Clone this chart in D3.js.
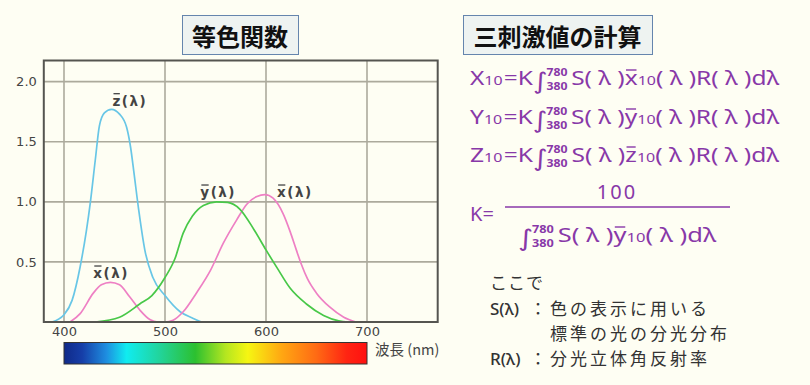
<!DOCTYPE html>
<html>
<head>
<meta charset="utf-8">
<script src="https://cdn.jsdelivr.net/npm/d3@7"></script>
<style>
body { margin: 0; background: #fefef3; }
svg { display: block; }
</style>
</head>
<body>
<div id="chart"></div>
<script>
/////////////////////////
// data
/////////////////////////
const wavelengthTicks = [400, 500, 600, 700];
const valueTicks = [0.5, 1.0, 1.5, 2.0];

// z-bar (blue)
const zbar = [[388,0],[400,0.06],[408,0.18],[416,0.46],[426,0.99],[431,1.35],[435,1.63],[440,1.74],
  [447,1.77],[455,1.73],[462,1.62],[466,1.45],[469,1.26],[474,0.93],[480,0.6],[488,0.37],
  [500,0.22],[515,0.085],[528,0.03],[536,0]];
// y-bar (green)
const ybar = [[431,0],[455,0.04],[475,0.15],[487,0.22],[500,0.37],[510,0.53],[518,0.74],[527,0.88],
  [538,0.97],[551,1.0],[562,0.995],[574,0.94],[588,0.77],[600,0.6],[611,0.45],[624,0.28],
  [640,0.15],[657,0.055],[672,0.01],[682,0]];
// x-bar (pink)
const xbar = [[406,0],[416,0.07],[429,0.24],[437,0.31],[446,0.33],[455,0.31],[465,0.21],[475,0.1],
  [485,0.02],[493,0],[500,0],[508,0.015],[518,0.085],[531,0.24],[545,0.43],[558,0.66],[571,0.85],
  [581,0.98],[591,1.045],[599,1.06],[607,1.03],[617,0.9],[624,0.75],[630,0.6],[635,0.48],
  [641,0.36],[650,0.24],[663,0.125],[677,0.04],[689,0]];

// curve labels, anchored in data units (nm, value)
const curveLabels = [
  {sym: "z", nm: 448, v: 1.80},
  {sym: "x", nm: 429, v: 0.366},
  {sym: "y", nm: 535, v: 1.04},
  {sym: "x", nm: 611, v: 1.04}
];

// spectrum bar colours
const spectrumStops = [[400,"#102a88"],[418,"#163ea8"],[442,"#1e8ee0"],[462,"#10ecf0"],
  [495,"#22d49a"],[530,"#2cc030"],[560,"#b4e620"],[582,"#f6f612"],[615,"#ffa812"],
  [650,"#ff6a14"],[680,"#ff2412"],[700,"#ff1010"]];

const noteLines = ["色の表示に用いる", "標準の光の分光分布", "分光立体角反射率"];

/////////////////////////
// layout
/////////////////////////
const W = 810, H = 385;
const purple = "#8838a8";

const svg = d3.select("#chart").append("svg")
  .attr("width", W).attr("height", H)
  .attr("viewBox", `0 0 ${W} ${H}`);

svg.append("rect").attr("width", W).attr("height", H).attr("fill", "#fefef3");

const x = d3.scaleLinear().domain([380, 770]).range([43.8, 437.7]);
const y = d3.scaleLinear().domain([0, 2.176]).range([322, 60.5]);

// title boxes
function titleBox(x0, x1, label) {
  svg.append("rect")
    .attr("x", x0 + 0.5).attr("y", 15.5)
    .attr("width", x1 - x0).attr("height", 39)
    .attr("fill", "#eef3f1").attr("stroke", "#6585ad").attr("stroke-width", 1);
  svg.append("text")
    .attr("x", (x0 + x1) / 2).attr("y", 35)
    .attr("text-anchor", "middle").attr("dominant-baseline", "central")
    .style("font-family", "'Noto Sans CJK JP', sans-serif")
    .style("font-weight", 700).style("font-size", "24px")
    .attr("fill", "#111")
    .text(label);
}
titleBox(182, 298, "等色関数");
titleBox(463, 652, "三刺激値の計算");

////////////////////////
// plot
////////////////////////
const plot = svg.append("g");

// grid
plot.selectAll("line.vg").data(wavelengthTicks).join("line")
  .attr("class", "vg")
  .attr("x1", d => x(d)).attr("x2", d => x(d))
  .attr("y1", y.range()[1]).attr("y2", y.range()[0])
  .attr("stroke", "#acaa9c").attr("stroke-width", 1.6);
plot.selectAll("line.hg").data(valueTicks).join("line")
  .attr("class", "hg")
  .attr("x1", x.range()[0]).attr("x2", x.range()[1])
  .attr("y1", d => y(d)).attr("y2", d => y(d))
  .attr("stroke", "#acaa9c").attr("stroke-width", 1.6);

const line = d3.line()
  .x(d => x(d[0]))
  .y(d => y(d[1]))
  .curve(d3.curveMonotoneX);

[[zbar, "#68c6e6"], [xbar, "#ee80c4"], [ybar, "#48c848"]].forEach(function(s) {
  plot.append("path")
    .datum(s[0])
    .attr("fill", "none")
    .attr("stroke", s[1])
    .attr("stroke-width", 1.7)
    .attr("d", line);
});

// frame
plot.append("rect")
  .attr("x", x.range()[0]).attr("y", y.range()[1])
  .attr("width", x.range()[1] - x.range()[0])
  .attr("height", y.range()[0] - y.range()[1])
  .attr("fill", "none").attr("stroke", "#555550").attr("stroke-width", 2);

// axes
const yAxis = svg.append("g")
  .attr("transform", `translate(${x.range()[0]},0)`)
  .call(d3.axisLeft(y).tickValues(valueTicks).tickFormat(d3.format(".1f")).tickSize(0).tickPadding(7));
const xAxis = svg.append("g")
  .attr("transform", `translate(0,${y.range()[0]})`)
  .call(d3.axisBottom(x).tickValues(wavelengthTicks).tickFormat(d3.format("d")).tickSize(0).tickPadding(5));
[xAxis, yAxis].forEach(function(a) {
  a.select(".domain").remove();
  a.selectAll("text")
    .style("font-family", "'DejaVu Sans', sans-serif")
    .style("font-size", "13px")
    .attr("fill", "#444");
});

// curve labels
const lab = svg.append("g")
  .style("font-family", "'DejaVu Sans', sans-serif")
  .style("font-weight", 700).style("font-size", "13.5px")
  .attr("fill", "#444");
curveLabels.forEach(function(d) {
  const t = lab.append("text")
    .attr("x", x(d.nm)).attr("y", y(d.v))
    .style("letter-spacing", "1.5px");
  t.append("tspan").text(d.sym);
  t.append("tspan").text("(λ)");
  const w = t.select("tspan").node().getComputedTextLength();
  lab.append("line")
    .attr("x1", x(d.nm) + 1).attr("x2", x(d.nm) + w - 2)
    .attr("y1", y(d.v) - 12).attr("y2", y(d.v) - 12)
    .attr("stroke", "#444").attr("stroke-width", 1.3);
});

// spectrum bar
const grad = svg.append("defs").append("linearGradient")
  .attr("id", "spec")
  .attr("x1", "0%").attr("x2", "100%");
grad.selectAll("stop").data(spectrumStops).join("stop")
  .attr("offset", d => (x(d[0]) - x(400)) / (x(700) - x(400)))
  .attr("stop-color", d => d[1]);
svg.append("rect")
  .attr("x", x(400)).attr("y", 342.5)
  .attr("width", x(700) - x(400)).attr("height", 21.5)
  .attr("fill", "url(#spec)")
  .attr("stroke", "#333").attr("stroke-width", 1);
svg.append("text")
  .attr("x", 375).attr("y", 355)
  .style("font-family", "'Noto Sans CJK JP', sans-serif")
  .style("font-size", "14.5px")
  .attr("fill", "#444")
  .text("波長 (nm)");

////////////////////////
// formulas
////////////////////////
const F = svg.append("g")
  .attr("fill", purple)
  .style("font-family", "'Noto Sans', sans-serif");

function run(g, x0, y0, str, size, weight) {
  const t = g.append("text")
    .attr("x", x0).attr("y", y0)
    .style("font-size", size + "px")
    .style("font-weight", weight || 400)
    .text(str);
  return x0 + t.node().getComputedTextLength();
}
function barred(g, x0, y0, ch) {
  const x1 = run(g, x0, y0, ch, 20);
  g.append("line")
    .attr("x1", x0 + 1).attr("x2", x1 - 1)
    .attr("y1", y0 - 15).attr("y2", y0 - 15)
    .attr("stroke", purple).attr("stroke-width", 1.4);
  return x1;
}
function integral(g, x0, y0) {
  const s = g.append("text")
    .attr("x", x0).attr("y", y0 + 4)
    .style("font-family", "'DejaVu Sans', sans-serif")
    .style("font-size", "23px")
    .text("∫");
  const lx = x0 + s.node().getComputedTextLength() - 1;
  const a = run(g, lx, y0 - 9, "780", 10, 700);
  const b = run(g, lx, y0 + 5, "380", 10, 700);
  return Math.max(a, b) + 3;
}
function fit(g, x0, width) {
  const bb = g.node().getBBox();
  g.attr("transform", `translate(${x0 - bb.x * width / bb.width},0) scale(${width / bb.width},1)`);
}

[["X", "x", 85], ["Y", "y", 124], ["Z", "z", 162]].forEach(function(r) {
  const g = F.append("g");
  let cx = 0, base = r[2];
  cx = run(g, cx, base, r[0], 20);
  cx = run(g, cx, base, "10", 13);
  cx = run(g, cx + 1, base, "=K", 20);
  cx = integral(g, cx, base);
  cx = run(g, cx, base, "S( λ )", 20);
  cx = barred(g, cx, base, r[1]);
  cx = run(g, cx, base, "10", 13);
  cx = run(g, cx, base, "( λ )R( λ )dλ", 20);
  fit(g, 470, 310);
});

// K = 100 / ...
run(F, 470, 221, "K=", 20);
F.append("line")
  .attr("x1", 505).attr("x2", 730)
  .attr("y1", 207).attr("y2", 207)
  .attr("stroke", purple).attr("stroke-width", 1.6);
F.append("text")
  .attr("x", 617).attr("y", 199)
  .attr("text-anchor", "middle")
  .style("font-size", "20px").style("letter-spacing", "2px")
  .text("100");
const den = F.append("g");
{
  let cx = 0, base = 242;
  cx = integral(den, cx, base);
  cx = run(den, cx, base, "S( λ )", 20);
  cx = barred(den, cx, base, "y");
  cx = run(den, cx, base, "10", 13);
  cx = run(den, cx, base, "( λ )dλ", 20);
  fit(den, 518, 199);
}

////////////////////////
// notes
////////////////////////
const N = svg.append("g").attr("fill", "#333");
const cjk = "'Noto Sans CJK JP', sans-serif";
N.append("text").attr("x", 490).attr("y", 289)
  .style("font-family", cjk).style("font-size", "17px").style("letter-spacing", "1px").text("ここで");
[["S(λ)", 315], ["R(λ)", 365]].forEach(function(d) {
  N.append("text").attr("x", 490).attr("y", d[1])
    .style("font-family", "'Noto Sans', sans-serif").style("font-size", "17px").style("font-weight", 500)
    .text(d[0]);
  N.append("text").attr("x", 538).attr("y", d[1])
    .attr("text-anchor", "middle")
    .style("font-family", cjk).style("font-size", "17px").text("：");
});
N.selectAll("text.note").data(noteLines).join("text")
  .attr("class", "note")
  .attr("x", 550)
  .attr("y", (d, i) => 315 + i * 25)
  .style("font-family", cjk).style("font-size", "17px")
  .style("letter-spacing", "3px")
  .text(d => d);
</script>
</body>
</html>
